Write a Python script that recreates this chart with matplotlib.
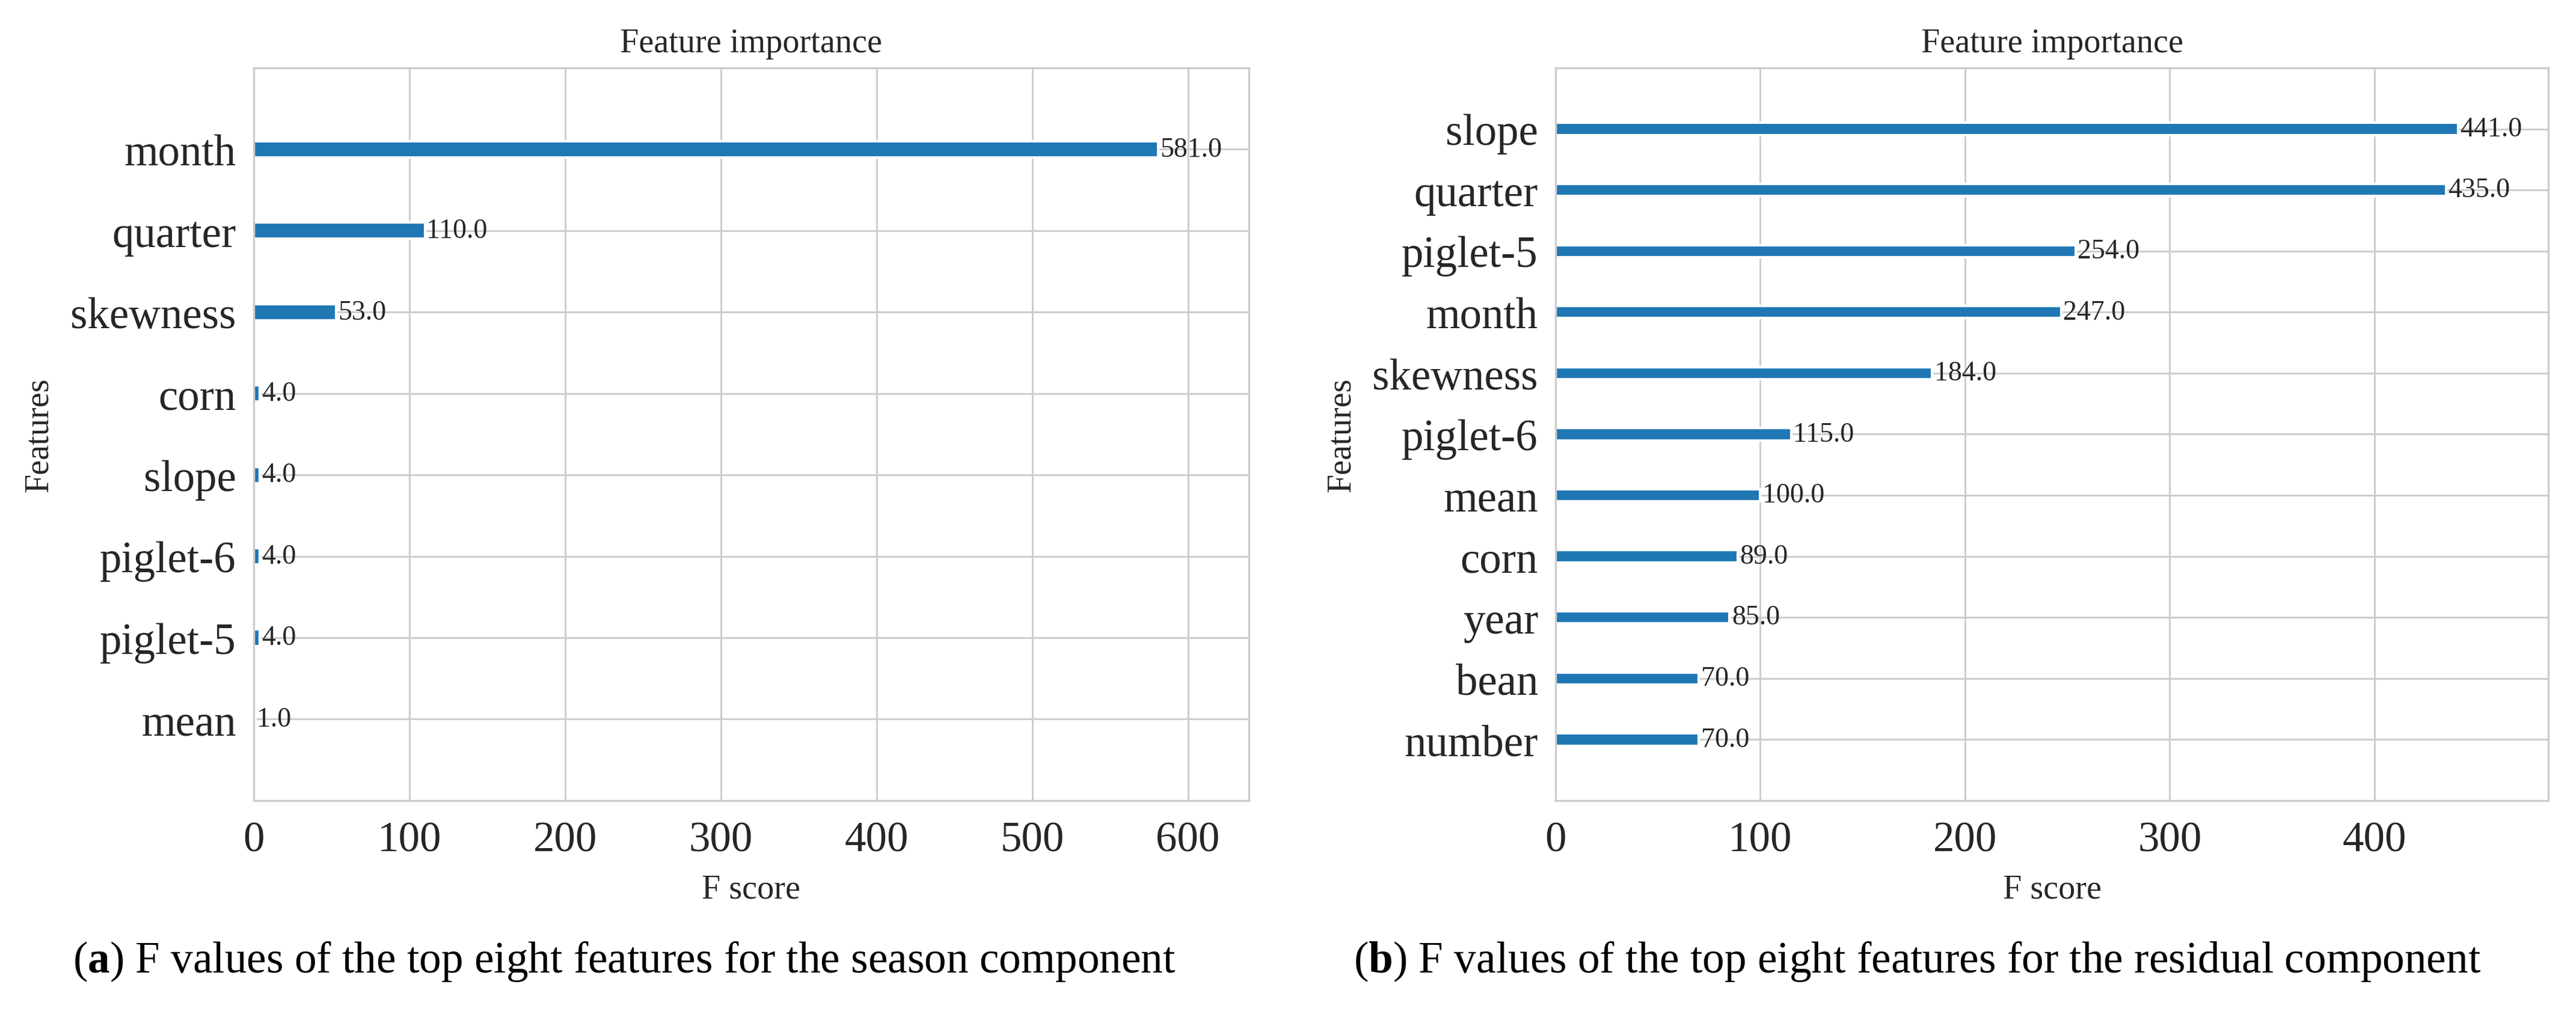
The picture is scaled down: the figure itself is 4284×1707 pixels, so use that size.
import numpy as np
import matplotlib
matplotlib.use('Agg')
import matplotlib.pyplot as plt
import seaborn as sns

## Data (top to bottom as shown in the figure)
season_features = ['month', 'quarter', 'skewness', 'corn', 'slope', 'piglet-6', 'piglet-5', 'mean']
season_scores = [581, 110, 53, 4, 4, 4, 4, 1]

residual_features = ['slope', 'quarter', 'piglet-5', 'month', 'skewness', 'piglet-6',
                     'mean', 'corn', 'year', 'bean', 'number']
residual_scores = [441, 435, 254, 247, 184, 115, 100, 89, 85, 70, 70]

caption_a = r'($\mathbf{a}$) F values of the top eight features for the season component'
caption_b = r'($\mathbf{b}$) F values of the top eight features for the residual component'

## Style
sns.set_style('whitegrid')
plt.rcParams['font.family'] = ['Liberation Serif', 'DejaVu Serif']
plt.rcParams['mathtext.fontset'] = 'custom'
plt.rcParams['mathtext.rm'] = 'Liberation Serif'
plt.rcParams['mathtext.bf'] = 'Liberation Serif:bold'
plt.rcParams['axes.edgecolor'] = '#cccccc'
plt.rcParams['grid.color'] = '#cccccc'
plt.rcParams['axes.linewidth'] = 0.8
plt.rcParams['grid.linewidth'] = 0.7

text_color = '#262626'
bar_color = '#1f77b4'


def importance_plot(ax, features, scores):
    # same layout as xgboost.plot_importance (ascending from bottom)
    feats = features[::-1]
    vals = scores[::-1]
    ylocs = np.arange(len(vals))
    ax.barh(ylocs, vals, align='center', height=0.2, color=bar_color)
    for x, y in zip(vals, ylocs):
        ax.text(x + 1, y, '%.1f' % x, va='center', fontsize=11, color=text_color)
    ax.set_yticks(ylocs)
    ax.set_yticklabels(feats)
    ax.set_xlim(0, max(vals) * 1.1)
    ax.set_ylim(-1, len(vals))
    ax.set_title('Feature importance', fontsize=13.5, color=text_color, pad=6.5)
    ax.set_xlabel('F score', fontsize=13.5, color=text_color, labelpad=5.5)
    ax.set_ylabel('Features', fontsize=13.5, color=text_color)
    ax.yaxis.set_label_coords(-0.20, 0.5)
    ax.tick_params(axis='y', labelsize=17.5, pad=7, length=0, colors=text_color)
    ax.tick_params(axis='x', labelsize=17, pad=8, length=0, colors=text_color)
    ax.grid(True)
    ax.set_axisbelow(True)


fig = plt.figure(figsize=(14.28, 5.6933), dpi=300)
ax1 = fig.add_axes([0.0985, 0.2196, 0.3863, 0.7137])
ax2 = fig.add_axes([0.6039, 0.2196, 0.3854, 0.7137])

importance_plot(ax1, season_features, season_scores)
importance_plot(ax2, residual_features, residual_scores)

fig.text(121 / 4284, 1 - 1618 / 1708, caption_a, fontsize=17.6, color='black', va='baseline', ha='left')
fig.text(2251 / 4284, 1 - 1618 / 1708, caption_b, fontsize=17.6, color='black', va='baseline', ha='left')

fig.savefig('out.png', dpi=300, facecolor='white')
